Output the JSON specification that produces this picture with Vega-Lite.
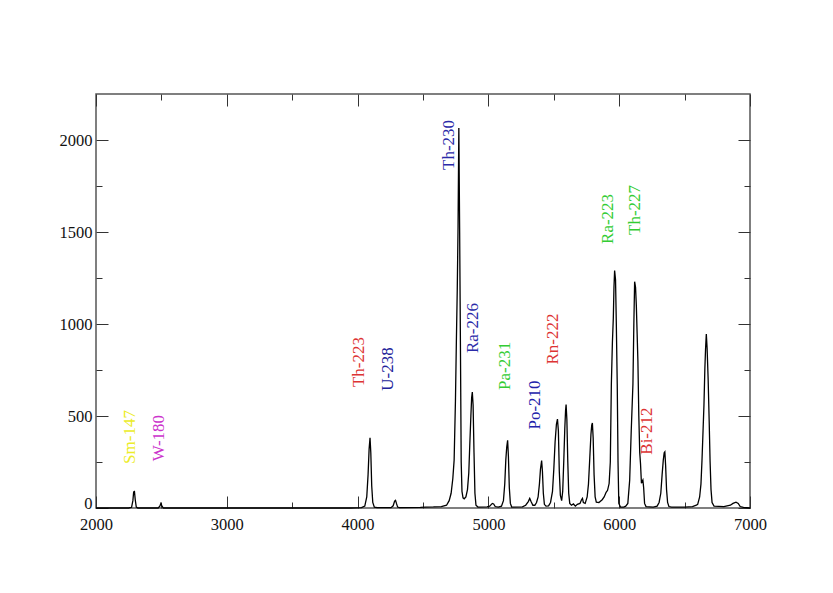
{
  "$schema": "https://vega.github.io/schema/vega-lite/v6.json",
  "width": 654,
  "height": 414,
  "autosize": {"type": "none"},
  "padding": {"left": 96, "top": 94, "right": 83, "bottom": 85},
  "background": "white",
  "config": {
    "view": {"stroke": "#555555", "strokeWidth": 1.5},
    "axis": {"labelFont": "Liberation Serif", "labelFontSize": 16.5, "labelColor": "#111111", "tickColor": "#333333", "tickWidth": 1, "domain": false, "grid": false, "title": null}
  },
  "datasets": {
    "spectrum": [
      {"energy": 2000, "counts": 0}, {"energy": 2250, "counts": 0}, {"energy": 2272, "counts": 4}, {"energy": 2282, "counts": 40},
      {"energy": 2288, "counts": 88}, {"energy": 2294, "counts": 90}, {"energy": 2300, "counts": 45}, {"energy": 2308, "counts": 5},
      {"energy": 2320, "counts": 0}, {"energy": 2475, "counts": 0}, {"energy": 2488, "counts": 10}, {"energy": 2496, "counts": 25},
      {"energy": 2504, "counts": 12}, {"energy": 2514, "counts": 0}, {"energy": 3950, "counts": 0}, {"energy": 4030, "counts": 2},
      {"energy": 4055, "counts": 10}, {"energy": 4070, "counts": 60}, {"energy": 4080, "counts": 180}, {"energy": 4088, "counts": 320},
      {"energy": 4095, "counts": 382}, {"energy": 4101, "counts": 300}, {"energy": 4108, "counts": 120}, {"energy": 4116, "counts": 30},
      {"energy": 4128, "counts": 4}, {"energy": 4150, "counts": 2}, {"energy": 4255, "counts": 2}, {"energy": 4272, "counts": 12},
      {"energy": 4283, "counts": 38}, {"energy": 4290, "counts": 42}, {"energy": 4297, "counts": 25}, {"energy": 4306, "counts": 5},
      {"energy": 4320, "counts": 2}, {"energy": 4480, "counts": 3}, {"energy": 4520, "counts": 5}, {"energy": 4580, "counts": 6},
      {"energy": 4640, "counts": 8}, {"energy": 4680, "counts": 15}, {"energy": 4700, "counts": 40}, {"energy": 4715, "counts": 80},
      {"energy": 4728, "counts": 160}, {"energy": 4738, "counts": 260}, {"energy": 4748, "counts": 580}, {"energy": 4755, "counts": 900},
      {"energy": 4762, "counts": 1190}, {"energy": 4768, "counts": 1530}, {"energy": 4774, "counts": 2065}, {"energy": 4780, "counts": 1520},
      {"energy": 4786, "counts": 900}, {"energy": 4792, "counts": 250}, {"energy": 4798, "counts": 90}, {"energy": 4806, "counts": 55},
      {"energy": 4815, "counts": 50}, {"energy": 4828, "counts": 60}, {"energy": 4840, "counts": 100}, {"energy": 4850, "counts": 190},
      {"energy": 4858, "counts": 350}, {"energy": 4866, "counts": 500}, {"energy": 4872, "counts": 600}, {"energy": 4877, "counts": 630},
      {"energy": 4883, "counts": 560}, {"energy": 4890, "counts": 300}, {"energy": 4897, "counts": 80}, {"energy": 4905, "counts": 15},
      {"energy": 4920, "counts": 5}, {"energy": 4990, "counts": 6}, {"energy": 5010, "counts": 10}, {"energy": 5030, "counts": 25},
      {"energy": 5040, "counts": 22}, {"energy": 5052, "counts": 8}, {"energy": 5075, "counts": 5}, {"energy": 5100, "counts": 10},
      {"energy": 5115, "counts": 40}, {"energy": 5125, "counts": 130}, {"energy": 5133, "counts": 260}, {"energy": 5140, "counts": 330},
      {"energy": 5147, "counts": 368}, {"energy": 5153, "counts": 280}, {"energy": 5160, "counts": 110}, {"energy": 5168, "counts": 25},
      {"energy": 5178, "counts": 5}, {"energy": 5260, "counts": 6}, {"energy": 5285, "counts": 15}, {"energy": 5305, "counts": 35},
      {"energy": 5316, "counts": 52}, {"energy": 5326, "counts": 35}, {"energy": 5340, "counts": 15}, {"energy": 5355, "counts": 15},
      {"energy": 5368, "counts": 30}, {"energy": 5380, "counts": 60}, {"energy": 5390, "counts": 130}, {"energy": 5398, "counts": 210},
      {"energy": 5407, "counts": 258}, {"energy": 5413, "counts": 200}, {"energy": 5420, "counts": 80}, {"energy": 5428, "counts": 20},
      {"energy": 5440, "counts": 10}, {"energy": 5460, "counts": 12}, {"energy": 5475, "counts": 30}, {"energy": 5490, "counts": 90},
      {"energy": 5500, "counts": 210}, {"energy": 5510, "counts": 360}, {"energy": 5520, "counts": 455}, {"energy": 5528, "counts": 483},
      {"energy": 5535, "counts": 420}, {"energy": 5542, "counts": 200}, {"energy": 5550, "counts": 70}, {"energy": 5560, "counts": 40},
      {"energy": 5568, "counts": 90}, {"energy": 5576, "counts": 250}, {"energy": 5584, "counts": 430}, {"energy": 5590, "counts": 530},
      {"energy": 5594, "counts": 562}, {"energy": 5600, "counts": 480}, {"energy": 5607, "counts": 250}, {"energy": 5614, "counts": 80},
      {"energy": 5622, "counts": 25}, {"energy": 5635, "counts": 15}, {"energy": 5650, "counts": 22}, {"energy": 5665, "counts": 10},
      {"energy": 5680, "counts": 20}, {"energy": 5700, "counts": 25}, {"energy": 5712, "counts": 45}, {"energy": 5719, "counts": 52},
      {"energy": 5726, "counts": 30}, {"energy": 5740, "counts": 25}, {"energy": 5755, "counts": 60}, {"energy": 5765, "counts": 130},
      {"energy": 5775, "counts": 270}, {"energy": 5784, "counts": 400}, {"energy": 5790, "counts": 450}, {"energy": 5795, "counts": 462},
      {"energy": 5801, "counts": 380}, {"energy": 5808, "counts": 180}, {"energy": 5816, "counts": 60}, {"energy": 5825, "counts": 32},
      {"energy": 5845, "counts": 30}, {"energy": 5870, "counts": 45}, {"energy": 5885, "counts": 60}, {"energy": 5900, "counts": 85},
      {"energy": 5911, "counts": 96}, {"energy": 5923, "counts": 133}, {"energy": 5932, "counts": 250}, {"energy": 5940, "counts": 674},
      {"energy": 5948, "counts": 900}, {"energy": 5955, "counts": 1032}, {"energy": 5960, "counts": 1200}, {"energy": 5965, "counts": 1290},
      {"energy": 5972, "counts": 1240}, {"energy": 5978, "counts": 1000}, {"energy": 5985, "counts": 674}, {"energy": 5991, "counts": 250},
      {"energy": 5997, "counts": 25}, {"energy": 6010, "counts": 5}, {"energy": 6035, "counts": 5}, {"energy": 6050, "counts": 10},
      {"energy": 6066, "counts": 25}, {"energy": 6080, "counts": 150}, {"energy": 6092, "counts": 420}, {"energy": 6105, "counts": 674},
      {"energy": 6112, "counts": 1000}, {"energy": 6118, "counts": 1230}, {"energy": 6125, "counts": 1200}, {"energy": 6131, "counts": 1100},
      {"energy": 6137, "counts": 950}, {"energy": 6143, "counts": 797}, {"energy": 6150, "counts": 500}, {"energy": 6157, "counts": 300},
      {"energy": 6163, "counts": 240}, {"energy": 6170, "counts": 135}, {"energy": 6176, "counts": 145}, {"energy": 6181, "counts": 152},
      {"energy": 6187, "counts": 110}, {"energy": 6194, "counts": 25}, {"energy": 6205, "counts": 8}, {"energy": 6260, "counts": 5},
      {"energy": 6290, "counts": 10}, {"energy": 6305, "counts": 30}, {"energy": 6318, "counts": 80}, {"energy": 6328, "counts": 180},
      {"energy": 6337, "counts": 260}, {"energy": 6344, "counts": 300}, {"energy": 6349, "counts": 305}, {"energy": 6355, "counts": 230},
      {"energy": 6362, "counts": 100}, {"energy": 6370, "counts": 30}, {"energy": 6380, "counts": 8}, {"energy": 6400, "counts": 5},
      {"energy": 6500, "counts": 5}, {"energy": 6560, "counts": 8}, {"energy": 6590, "counts": 15}, {"energy": 6600, "counts": 20},
      {"energy": 6615, "counts": 60}, {"energy": 6625, "counts": 130}, {"energy": 6633, "counts": 260}, {"energy": 6640, "counts": 400},
      {"energy": 6648, "counts": 560}, {"energy": 6655, "counts": 760}, {"energy": 6660, "counts": 860}, {"energy": 6666, "counts": 945},
      {"energy": 6672, "counts": 870}, {"energy": 6680, "counts": 700}, {"energy": 6688, "counts": 470}, {"energy": 6695, "counts": 250},
      {"energy": 6702, "counts": 100}, {"energy": 6710, "counts": 30}, {"energy": 6725, "counts": 10}, {"energy": 6800, "counts": 8},
      {"energy": 6850, "counts": 15}, {"energy": 6870, "counts": 25}, {"energy": 6893, "counts": 32}, {"energy": 6910, "counts": 25},
      {"energy": 6925, "counts": 8}, {"energy": 6950, "counts": 3}, {"energy": 7000, "counts": 0}
    ],
    "labels": [
      {"label": "Sm-147", "energy": 2260, "counts": 386},
      {"label": "W-180", "energy": 2482, "counts": 380},
      {"label": "Th-223", "energy": 4011, "counts": 793},
      {"label": "U-238", "energy": 4232, "counts": 755},
      {"label": "Th-230", "energy": 4699, "counts": 1973},
      {"label": "Ra-226", "energy": 4882, "counts": 978},
      {"label": "Pa-231", "energy": 5127, "counts": 772},
      {"label": "Po-210", "energy": 5356, "counts": 560},
      {"label": "Rn-222", "energy": 5494, "counts": 918},
      {"label": "Ra-223", "energy": 5914, "counts": 1571},
      {"label": "Th-227", "energy": 6121, "counts": 1620},
      {"label": "Bi-212", "energy": 6213, "counts": 418}
    ]
  },
  "layer": [
    {
      "data": {"name": "spectrum"},
      "mark": {"type": "line", "color": "#000000", "strokeWidth": 1.3, "interpolate": "linear"},
      "encoding": {
        "x": {"field": "energy", "type": "quantitative", "scale": {"domain": [2000, 7000], "nice": false, "zero": false},
              "axis": {"orient": "bottom", "values": [2000, 3000, 4000, 5000, 6000, 7000], "format": "d", "tickSize": -12, "labelPadding": 20, "labelFlush": false}},
        "y": {"field": "counts", "type": "quantitative", "scale": {"domain": [0, 2250], "nice": false},
              "axis": {"orient": "left", "values": [0, 500, 1000, 1500, 2000], "format": "d", "tickSize": -12, "labelPadding": 16, "labelFlush": false,
                       "labelBaseline": {"condition": {"test": "datum.value === 0", "value": "alphabetic"}, "value": "middle"}}}
      }
    },
    {
      "data": {"name": "labels"},
      "mark": {"type": "text", "angle": 270, "font": "Liberation Serif", "fontSize": 17, "align": "center", "baseline": "middle"},
      "encoding": {
        "x": {"field": "energy", "type": "quantitative",
              "axis": {"orient": "bottom", "values": [2500, 3500, 4500, 5500, 6500], "tickSize": -6, "labels": false}},
        "y": {"field": "counts", "type": "quantitative",
              "axis": {"orient": "left", "values": [250, 750, 1250, 1750], "tickSize": -6, "labels": false}},
        "text": {"field": "label"},
        "color": {"field": "label", "type": "nominal", "legend": null,
                  "scale": {"domain": ["Sm-147", "W-180", "Th-223", "U-238", "Th-230", "Ra-226", "Pa-231", "Po-210", "Rn-222", "Ra-223", "Th-227", "Bi-212"],
                            "range": ["#ecec2a", "#cc33cc", "#dd3333", "#22229a", "#2a2aa8", "#2a2aa8", "#33cc33", "#2222aa", "#dd3333", "#33cc33", "#33cc33", "#dd3333"]}}
      }
    },
    {
      "data": {"name": "labels"},
      "mark": {"type": "point", "opacity": 0},
      "encoding": {
        "x": {"field": "energy", "type": "quantitative",
              "axis": {"orient": "top", "values": [2000, 3000, 4000, 5000, 6000, 7000], "tickSize": -12, "labels": false}},
        "y": {"field": "counts", "type": "quantitative",
              "axis": {"orient": "right", "values": [0, 500, 1000, 1500, 2000], "tickSize": -12, "labels": false}}
      }
    },
    {
      "data": {"name": "labels"},
      "mark": {"type": "point", "opacity": 0},
      "encoding": {
        "x": {"field": "energy", "type": "quantitative",
              "axis": {"orient": "top", "values": [2500, 3500, 4500, 5500, 6500], "tickSize": -6, "labels": false}},
        "y": {"field": "counts", "type": "quantitative",
              "axis": {"orient": "right", "values": [250, 750, 1250, 1750], "tickSize": -6, "labels": false}}
      }
    }
  ],
  "resolve": {"axis": {"x": "independent", "y": "independent"}}
}
